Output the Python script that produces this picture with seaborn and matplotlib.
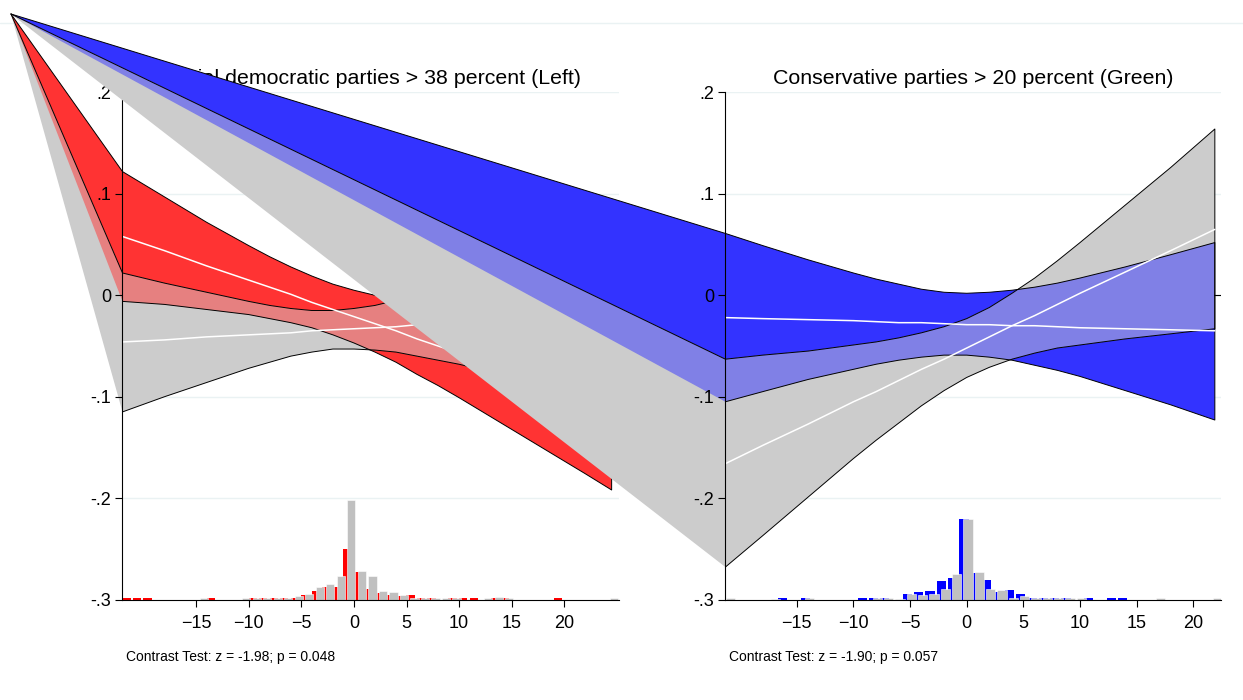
import numpy as np
import matplotlib
matplotlib.use("Agg")
import matplotlib.pyplot as plt
from matplotlib.patches import Polygon
from matplotlib.lines import Line2D
import seaborn as sns

# marginal effect bands (estimate, lower and upper bound)
left_x = [-22, -18, -14, -10, -8, -6, -4, -2, 0, 2, 4, 6, 8, 10, 14, 18, 22, 24.5]
left_red_est = [0.058, 0.044, 0.029, 0.015, 0.008, 0.001, -0.007, -0.014, -0.021, -0.028, -0.035,
                -0.043, -0.050, -0.057, -0.071, -0.086, -0.100, -0.109]
left_red_hi = [0.122, 0.097, 0.072, 0.049, 0.038, 0.028, 0.019, 0.011, 0.005, 0.000, -0.004,
               -0.008, -0.011, -0.013, -0.017, -0.021, -0.024, -0.026]
left_red_lo = [-0.006, -0.009, -0.014, -0.019, -0.023, -0.027, -0.032, -0.039, -0.047, -0.056, -0.066,
               -0.078, -0.089, -0.101, -0.126, -0.151, -0.176, -0.192]
left_grey_est = [-0.046, -0.044, -0.041, -0.039, -0.038, -0.037, -0.035, -0.034, -0.033, -0.032, -0.031,
                 -0.029, -0.028, -0.027, -0.024, -0.022, -0.020, -0.018]
left_grey_hi = [0.022, 0.012, 0.003, -0.006, -0.010, -0.013, -0.015, -0.015, -0.013, -0.010, -0.005,
                0.001, 0.008, 0.015, 0.029, 0.043, 0.058, 0.067]
left_grey_lo = [-0.115, -0.100, -0.086, -0.072, -0.066, -0.060, -0.056, -0.053, -0.053, -0.054, -0.056,
                -0.060, -0.064, -0.068, -0.078, -0.087, -0.097, -0.103]

right_x = [-21.3, -18, -14, -10, -8, -6, -4, -2, 0, 2, 4, 6, 8, 10, 14, 18, 21.9]
right_blue_est = [-0.022, -0.023, -0.024, -0.025, -0.026, -0.027, -0.027, -0.028, -0.029, -0.029, -0.030,
                  -0.030, -0.031, -0.032, -0.033, -0.034, -0.035]
right_blue_hi = [0.061, 0.049, 0.035, 0.022, 0.016, 0.011, 0.006, 0.003, 0.002, 0.003, 0.005,
                 0.008, 0.012, 0.017, 0.028, 0.040, 0.052]
right_blue_lo = [-0.105, -0.095, -0.083, -0.073, -0.068, -0.064, -0.061, -0.059, -0.059, -0.061, -0.064,
                 -0.069, -0.074, -0.080, -0.094, -0.108, -0.123]
right_grey_est = [-0.166, -0.148, -0.127, -0.105, -0.095, -0.084, -0.073, -0.063, -0.052, -0.041, -0.030,
                  -0.020, -0.009, 0.002, 0.023, 0.044, 0.065]
right_grey_hi = [-0.063, -0.059, -0.055, -0.049, -0.046, -0.042, -0.037, -0.031, -0.023, -0.012, 0.002,
                 0.017, 0.034, 0.052, 0.089, 0.126, 0.164]
right_grey_lo = [-0.268, -0.237, -0.199, -0.161, -0.143, -0.126, -0.109, -0.094, -0.081, -0.071, -0.063,
                 -0.057, -0.052, -0.049, -0.043, -0.038, -0.033]

# histogram bins and bar heights (in y units above -.3)
left_bins = [-21, -20, -19, -14, -13, -10, -9, -8, -7, -6, -5, -4, -3, -2, -1, 0, 1, 2, 3, 4,
             5, 6, 7, 8, 9, 10, 11, 12, 13, 14, 15, 20, 25]
left_red_hist = [.0012, .0012, .0012, 0, .0018, 0, .0018, .0018, .0012, .0012, .0018, .004, .0082, .0128,
                 .0128, .050, .027, .0099, .0066, .004, .003, .0049, .0018, .0012, 0, .0018, .0018, .0012,
                 0, .0018, .0012, .0015, 0]
left_grey_hist = [0, 0, 0, .0016, 0, .0016, .0016, .0016, .0016, .0016, .003, .0056, .0122, .0154, .0236,
                  .0985, .0286, .0227, .0082, .0072, .0046, .0016, .0016, .0016, .0016, .0018, 0, 0, .001,
                  .0029, .0016, 0, .001]
right_bins = [-21, -17, -16, -14, -9, -8, -7, -6, -5, -4, -3, -2, -1, 0, 1, 2, 3, 4, 5, 6, 7, 8, 9,
              10, 11, 13, 14, 17, 22]
right_blue_hist = [0, 0, .0012, .0016, .0016, .0016, .0013, 0, .005, .0072, .0079, .0179, .0213, .0789,
                   .0259, .0194, .0072, .0092, .0056, .0018, .001, .001, .0016, 0, .0016, .001, .001, 0, 0]
right_grey_hist = [.001, .0008, 0, .0016, 0, .0013, .0013, .0007, .0059, .0043, .0052, .0099, .0253, .0798,
                   .0269, .0108, .0098, .0016, .003, .0016, .0016, .001, .0016, .0013, 0, 0, 0, .001, .001]

y_ticks = [-0.3, -0.2, -0.1, 0, 0.1, 0.2]
y_labels = ["-.3", "-.2", "-.1", "0", ".1", ".2"]
x_ticks = [-15, -10, -5, 0, 5, 10, 15, 20]

titles = ["Social democratic parties > 38 percent (Left)", "Conservative parties > 20 percent (Green)"]
notes = ["Contrast Test: z = -1.98; p = 0.048", "Contrast Test: z = -1.90; p = 0.057"]

sns.set_theme(style="white")
plt.rcParams["font.family"] = ["Liberation Sans", "DejaVu Sans"]

fig = plt.figure(figsize=(12.43, 7.0), dpi=100)
APEX = (11 / 1243, 1 - 14 / 700)   # every band path starts at this corner point
GRID = "#eaf2f3"
GREY = "#cccccc"

# faint line across the top of the graph region
fig.add_artist(Line2D([0, 1], [0.9676, 0.9676], transform=fig.transFigure, color=GRID, lw=1, zorder=0.1))


def band_path(ax, xs, lo, hi):
    apex = ax.transData.inverted().transform(fig.transFigure.transform(APEX))
    upper = np.column_stack([xs, hi])
    lower = np.column_stack([xs, lo])[::-1]
    return np.vstack([apex, upper, lower])


def panel(rect, xlim, z, xs, c_est, c_lo, c_hi, g_est, g_lo, g_hi, bins, c_hist, g_hist,
          shift, fill, mix, bar, title, note):
    ax = fig.add_axes(rect, zorder=z)
    ax.set_facecolor("none")
    ax.set_xlim(*xlim)
    ax.set_ylim(-0.3, 0.2)

    for yv in y_ticks[1:]:
        ax.axhline(yv, color=GRID, lw=1, zorder=0.5)

    b = np.array(bins)
    ax.bar(b + shift[0], c_hist, width=shift[2], bottom=-0.3, color=bar, lw=0, zorder=1)
    ax.bar(b + shift[1], g_hist, width=shift[2], bottom=-0.3, color="#c0c0c0",
           edgecolor="white", lw=0.4, zorder=1.05)

    cp = band_path(ax, xs, c_lo, c_hi)
    gp = band_path(ax, xs, g_lo, g_hi)
    ax.add_patch(Polygon(cp, closed=True, fc=fill, ec="none", clip_on=False, zorder=1.2))
    grey_patch = Polygon(gp, closed=True, fc=GREY, ec="none", clip_on=False, zorder=1.25)
    ax.add_patch(grey_patch)
    both = Polygon(cp, closed=True, fc=mix, ec="none", zorder=1.3)
    ax.add_patch(both)
    both.set_clip_path(grey_patch)
    both.set_clip_box(None)

    for path in (cp, gp):
        ax.plot(path[:, 0], path[:, 1], color="black", lw=0.7, clip_on=False, zorder=1.5)

    sns.lineplot(x=xs, y=c_est, color="white", lw=1.1, ax=ax, zorder=1.6)
    sns.lineplot(x=xs, y=g_est, color="white", lw=1.1, ax=ax, zorder=1.6)

    ax.axhline(0, xmin=0.986, xmax=1.0, color="black", lw=0.8, zorder=2.6)

    ax.set_yticks(y_ticks)
    ax.set_yticklabels(y_labels)
    ax.set_xticks(x_ticks)
    ax.set_xlim(*xlim)
    ax.set_ylim(-0.3, 0.2)
    ax.tick_params(axis="both", which="major", bottom=True, left=True, direction="out",
                   length=5, width=0.8, color="black", labelcolor="black", labelsize=13)
    ax.tick_params(axis="x", pad=6)
    ax.tick_params(axis="y", pad=3)
    ax.xaxis.set_zorder(2.6)
    ax.yaxis.set_zorder(2.6)
    for side in ("top", "right"):
        ax.spines[side].set_visible(False)
    for side in ("left", "bottom"):
        ax.spines[side].set_color("black")
        ax.spines[side].set_linewidth(0.8)
        ax.spines[side].set_zorder(2.5)

    ax.set_title(title, fontsize=15.4, pad=6, color="black")
    ax.text(0.008, -0.113, note, transform=ax.transAxes, fontsize=10, va="center", ha="left",
            color="black")
    return ax


panel([0.09855, 0.14357, 0.39944, 0.72429], (-22, 25.2), 1,
      left_x, left_red_est, left_red_lo, left_red_hi,
      left_grey_est, left_grey_lo, left_grey_hi,
      left_bins, left_red_hist, left_grey_hist, (-0.62, -0.24, 0.78),
      "#ff3333", "#e68080", "#ff0000", titles[0], notes[0])

panel([0.58359, 0.14357, 0.39831, 0.72429], (-21.3, 22.4), 2,
      right_x, right_blue_est, right_blue_lo, right_blue_hi,
      right_grey_est, right_grey_lo, right_grey_hi,
      right_bins, right_blue_hist, right_grey_hist, (-0.23, 0.12, 0.82),
      "#3333ff", "#8080e6", "#0000ff", titles[1], notes[1])

fig.savefig("out.png", dpi=100)
